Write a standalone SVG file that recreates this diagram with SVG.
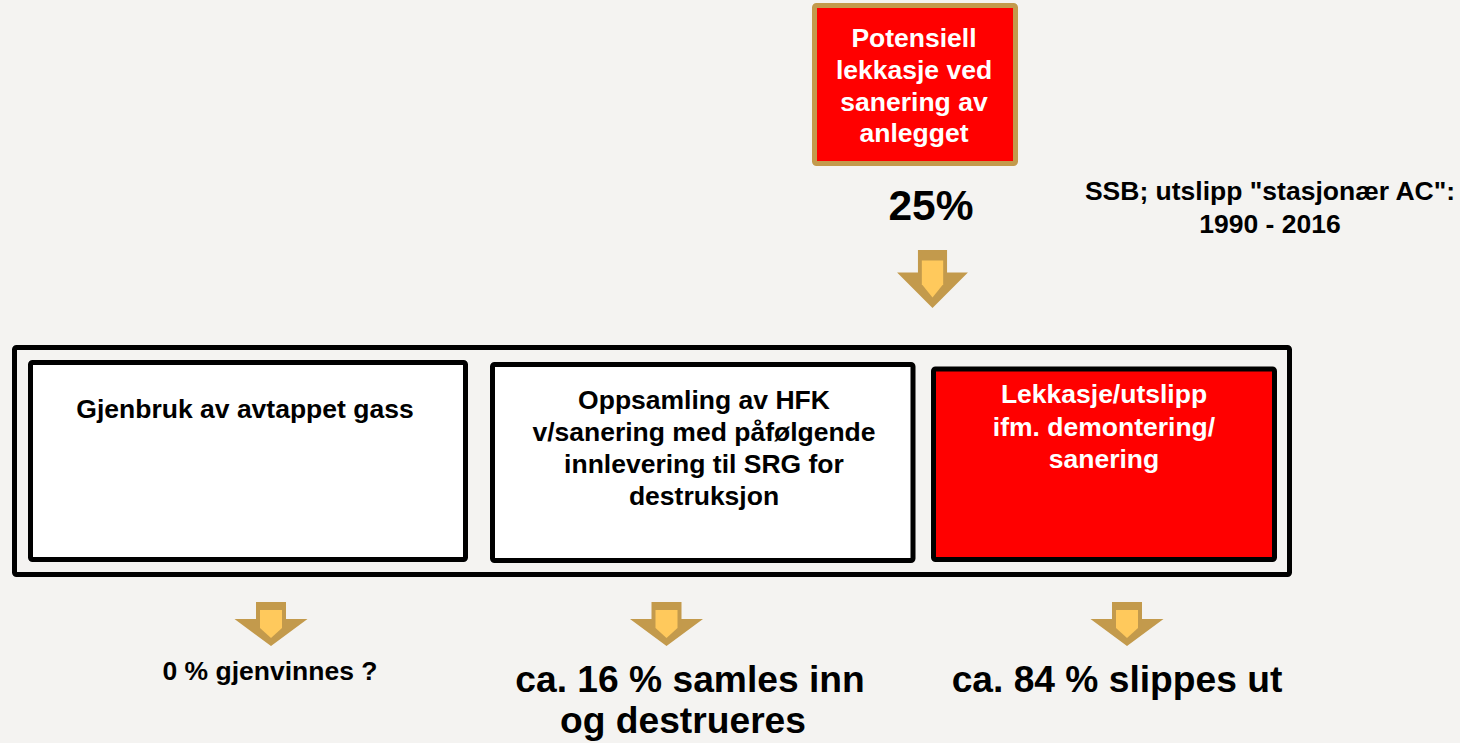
<svg xmlns="http://www.w3.org/2000/svg" xmlns:xlink="http://www.w3.org/1999/xlink" width="1460" height="743" viewBox="0 0 1460 743">
  <style>
    text { font-family: "Liberation Sans", Arial, sans-serif; font-weight: bold; text-anchor: middle; }
    .box { stroke: #000; stroke-width: 5; }
    .white { fill: #fff; }
    .red { fill: #ff0000; }
    .lbl { font-size: 26.5px; fill: #000; }
    .lblw { font-size: 26.5px; fill: #fff; }
    .big { font-size: 37.2px; fill: #000; }
    .arrOut { fill: #c39a4c; }
    .arrIn { fill: #ffc95c; }
  </style>
  <defs>
    <g id="arrowDown">
      <polygon class="arrOut" points="-15,0 15,0 15,17 36.5,17 0,44 -36.5,17 -15,17"/>
      <polygon class="arrIn" points="-11,8 11,8 11,26 0,36 -11,26"/>
    </g>
  </defs>
  <rect width="1460" height="743" fill="#f4f3f1"/>

  <g id="top-node">
    <rect x="814.5" y="5.5" width="201" height="158" rx="2" fill="#ff0000" stroke="#c39a4c" stroke-width="5"/>
    <text class="lblw" x="914" y="47">Potensiell</text>
    <text class="lblw" x="914" y="79">lekkasje ved</text>
    <text class="lblw" x="914" y="111">sanering av</text>
    <text class="lblw" x="914" y="142">anlegget</text>
  </g>

  <g id="pct25">
    <text x="931" y="220" style="font-size:42.5px" fill="#000">25%</text>
  </g>

  <g id="ssb-note">
    <text class="lbl" x="1270" y="200">SSB; utslipp "stasjonær AC":</text>
    <text class="lbl" x="1270" y="233">1990 - 2016</text>
  </g>

  <g id="container">
    <rect class="box" x="14.5" y="347.5" width="1275" height="227" rx="2" fill="#f4f3f1"/>
  </g>

  <g id="node-gjenbruk">
    <rect class="box white" x="30.5" y="362.5" width="435" height="197" rx="2"/>
    <text class="lbl" x="245" y="418">Gjenbruk av avtappet gass</text>
  </g>

  <g id="node-oppsamling">
    <rect class="box white" x="492.5" y="364.5" width="420.5" height="196" rx="2"/>
    <text class="lbl" x="704" y="409">Oppsamling av HFK</text>
    <text class="lbl" x="704" y="441">v/sanering med påfølgende</text>
    <text class="lbl" x="704" y="473">innlevering til SRG for</text>
    <text class="lbl" x="704" y="505">destruksjon</text>
  </g>

  <g id="node-lekkasje">
    <rect class="box red" x="933.5" y="369" width="341" height="190.5" rx="2"/>
    <text class="lblw" x="1104" y="403">Lekkasje/utslipp</text>
    <text class="lblw" x="1104" y="436">ifm. demontering/</text>
    <text class="lblw" x="1104" y="468">sanering</text>
  </g>

  <g id="connectors">
    <use xlink:href="#arrowDown" transform="translate(932.5,250) scale(0.97,1.32)"/>
    <use xlink:href="#arrowDown" transform="translate(271,602)"/>
    <use xlink:href="#arrowDown" transform="translate(666.5,602)"/>
    <use xlink:href="#arrowDown" transform="translate(1127,602)"/>
  </g>

  <g id="result-0">
    <text class="lbl" x="270" y="680">0 % gjenvinnes ?</text>
  </g>
  <g id="result-16">
    <text class="big" x="690" y="692">ca. 16 % samles inn</text>
    <text class="big" x="683" y="733">og destrueres</text>
  </g>
  <g id="result-84">
    <text class="big" x="1117" y="692">ca. 84 % slippes ut</text>
  </g>
</svg>
